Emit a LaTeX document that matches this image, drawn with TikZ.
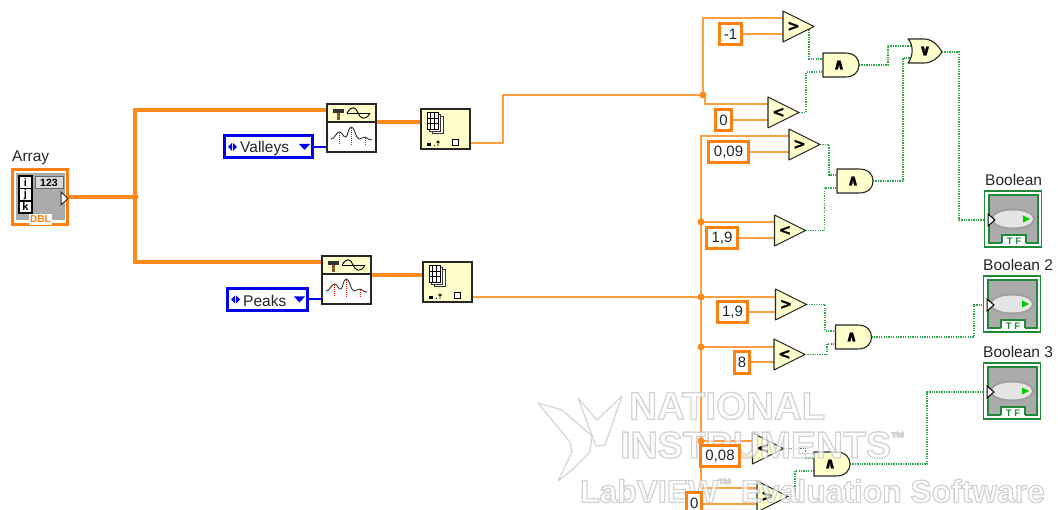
\documentclass[tikz,border=0pt]{standalone}
\usepackage{fontspec}
\setmainfont{Liberation Sans}
\newfontfamily\symf{DejaVu Sans Bold}[FakeBold=1.6]
\usetikzlibrary{backgrounds,calc}
\definecolor{wo}{HTML}{FF8A1A}
\definecolor{wol}{HTML}{FF9E40}
\definecolor{bx}{HTML}{FF7F0F}
\definecolor{yl}{HTML}{FFFFCC}
\definecolor{bl}{HTML}{0000F0}
\definecolor{gw}{HTML}{2DA84A}
\definecolor{gb}{HTML}{1F8A35}
\definecolor{gy}{HTML}{ABABAB}
\tikzset{
 thickwire/.style={wo,line width=3.4pt},
 thinwire/.style={draw=wol,line width=1.8pt},
 bluewire/.style={bl,line width=1.1pt},
 boolwire/.style={gw,line width=1.4pt,dash pattern=on 1.3pt off 1.1pt},
 junc/.style={circle,fill=wo,inner sep=0pt,minimum size=7pt},
 const/.style={draw=bx,fill=white,line width=3pt,inner sep=0pt,font=\fontsize{15}{15}\selectfont,text=black!85},
 gate/.style={draw=black!85,fill=yl,line width=1.1pt,line join=round},
 sym/.style={inner sep=0pt,font=\fontsize{15}{15}\symf,text=black},
 lab/.style={inner sep=0pt,font=\fontsize{15.5}{16}\selectfont,text=black!85},
 enumbox/.style={draw=bl,fill=white,line width=3pt,inner sep=0pt},
 wm/.style={inner sep=0pt,font=\bfseries,opacity=.7},
}
\newcommand\cmpr[4]{%
 \draw[gate] (#2,#3)--(#2+31,#3+15.5)--(#2,#3+31)--cycle;
 \node[sym] (#1) at (#2+10.5,#3+15.5) {#4};
 \coordinate (#1a) at (#2,#3+7);
 \coordinate (#1b) at (#2,#3+23);
 \coordinate (#1o) at (#2+31,#3+15.5);}
\newcommand\andg[3]{%
 \draw[gate] (#2,#3)--(#2+22,#3) .. controls (#2+32,#3) and (#2+36,#3+6) .. (#2+36,#3+12)
   .. controls (#2+36,#3+18) and (#2+32,#3+24) .. (#2+22,#3+24)--(#2,#3+24)--cycle;
 \node[sym] (#1) at (#2+16,#3+12) {∧};
 \coordinate (#1a) at (#2,#3+6);
 \coordinate (#1b) at (#2,#3+19);
 \coordinate (#1o) at (#2+36,#3+12);}
\newcommand\peakvi[3]{%
 \node[draw=black!85,fill=white,line width=1.2pt,minimum width=49pt,minimum height=48pt,inner sep=0pt,outer sep=0pt] (#1) at (#2+24.5,#3+24) {};
 \fill[yl,draw=black!85,line width=1.2pt] (#2,#3)rectangle(#2+49,#3+18);
 \fill[black!80] (#2+6,#3+5) rectangle (#2+17,#3+9);
 \fill[brown!70!black] (#2+10,#3+9) rectangle (#2+13,#3+16);
 \draw[black,line width=.9pt] (#2+20,#3+9) .. controls (#2+25,#3+1) and (#2+29,#3+3) .. (#2+31,#3+9) .. controls (#2+33,#3+15) and (#2+39,#3+17) .. (#2+43,#3+9);
 \draw[black,line width=.6pt] (#2+20,#3+9)--(#2+43,#3+9);
 \draw[red,line width=1pt,dash pattern=on 1pt off 1pt] (#2+12.5,#3+29)--(#2+12.5,#3+41);
 \draw[red,line width=1pt,dash pattern=on 1pt off 1pt] (#2+24.5,#3+24)--(#2+24.5,#3+41);
 \draw[red,line width=1pt,dash pattern=on 1pt off 1pt] (#2+38,#3+34)--(#2+38,#3+41);
 \draw[black!80,line width=.9pt] (#2+4,#3+35) .. controls (#2+8,#3+35) and (#2+9,#3+28) .. (#2+12.5,#3+28) .. controls (#2+16,#3+28) and (#2+16,#3+34) .. (#2+19,#3+33) .. controls (#2+21,#3+32) and (#2+21,#3+23) .. (#2+24.5,#3+23) .. controls (#2+28,#3+23) and (#2+28,#3+34) .. (#2+32,#3+35) .. controls (#2+35,#3+35) and (#2+35,#3+33) .. (#2+38,#3+33) .. controls (#2+40,#3+33) and (#2+41,#3+36) .. (#2+45,#3+36);}
\newcommand\arrfn[3]{%
 \node[draw=black!85,fill=yl,line width=1.2pt,minimum width=49pt,minimum height=40pt,inner sep=0pt,outer sep=0pt] (#1) at (#2+24.5,#3+20) {};
 \draw[fill=white,draw=black!80,line width=.9pt] (#2+11,#3+7) rectangle (#2+22,#3+24);
 \draw[fill=white,draw=black!80,line width=.9pt] (#2+8,#3+5.5) rectangle (#2+19,#3+22.5);
 \draw[fill=white,draw=black,line width=1pt] (#2+6,#3+4) rectangle (#2+17,#3+21);
 \draw[black,line width=1pt] (#2+6,#3+9.5)--(#2+17,#3+9.5) (#2+6,#3+15)--(#2+17,#3+15) (#2+9.7,#3+4)--(#2+9.7,#3+21) (#2+13.4,#3+4)--(#2+13.4,#3+21);
 \fill[black] (#2+6,#3+34) rectangle (#2+10,#3+37);
 \fill[black] (#2+13,#3+36) rectangle (#2+14.2,#3+37);
 \draw[black,line width=.8pt] (#2+17,#3+37)--(#2+17,#3+32) (#2+15.5,#3+33.5)--(#2+17,#3+32)--(#2+18.5,#3+33.5);
 \draw[black,line width=1pt,fill=white] (#2+31.5,#3+31) rectangle (#2+37.5,#3+37);}
\newcommand\boolind[3]{%
 \node[draw=gb,fill=white,line width=1.6pt,minimum width=57pt,minimum height=56.5pt,inner sep=0pt,outer sep=0pt] (#1) at (#2+29,#3+29) {};
 \draw[gb,fill=gy,line width=1.4pt] (#2+5,#3+5) rectangle (#2+54,#3+53);
 \fill[white] (#2+18,#3+45) rectangle (#2+42,#3+54);
 \draw[gb,line width=1.2pt] (#2+18,#3+53.5) -- (#2+18,#3+45) -- (#2+42,#3+45) -- (#2+42,#3+53.5);
 \node[inner sep=0pt,text=gb,font=\bfseries\fontsize{9.5}{9.5}\selectfont] at (#2+30,#3+51) {T F};
 \fill[black!38] (#2+29,#3+29) ellipse [x radius=22pt,y radius=10.5pt];
 \fill[black!10] (#2+29,#3+29) ellipse [x radius=20pt,y radius=8.5pt];
 \fill[green!80!black] (#2+39,#3+25.5) -- (#2+46,#3+29) -- (#2+39,#3+32.5)--cycle;
 \draw[fill=white,draw=black,line width=1pt] (#2+4,#3+24) -- (#2+11,#3+30) -- (#2+4,#3+36) -- cycle;
 \coordinate (#1i) at (#2+4,#3+30);}
\newcommand\enumctl[5]{% name x y w text
 \node[enumbox,minimum width=#4pt-3pt,minimum height=22pt] (#1) at (#2+#4/2,#3+12) {};
 \fill[bl] (#2+5,#3+12) -- (#2+9,#3+8) -- (#2+9,#3+16) -- cycle;
 \fill[bl] (#2+14,#3+12) -- (#2+10,#3+8) -- (#2+10,#3+16) -- cycle;
 \fill[bl] (#2+#4-15,#3+9) -- (#2+#4-4,#3+9) -- (#2+#4-9.5,#3+15) -- cycle;
 \node[lab,anchor=west] at (#2+17,#3+13.5) {#5};}
\begin{document}
\begin{tikzpicture}[x=1pt,y=-1pt]
\clip (0,0) rectangle (1058,510);
% Array terminal
\node[draw=bx,fill=white,line width=3pt,minimum width=55pt,minimum height=55pt,inner sep=0pt,outer sep=0pt] (arr) at (40,197) {};
\fill[gy] (15.5,173) rectangle (64.5,220);
\draw[black,fill=white,line width=1.1pt] (19,176) rectangle (32,213);
\draw[black,line width=1.1pt] (19,188.5)--(32,188.5) (19,201)--(32,201);
\node[inner sep=0pt,font=\bfseries\fontsize{11}{11}\selectfont] at (25.5,182.5) {i};
\node[inner sep=0pt,font=\bfseries\fontsize{11}{11}\selectfont] at (25.5,195) {j};
\node[inner sep=0pt,font=\bfseries\fontsize{11}{11}\selectfont] at (25.5,207) {k};
\draw[fill=black!15,draw=black!60,line width=1pt] (35,177) rectangle (63,189);
\node[inner sep=0pt,font=\bfseries\fontsize{10.5}{10.5}\selectfont] at (49,183) {123};
\node[fill=white,inner sep=0pt,minimum width=23pt,minimum height=11pt,text=bx,font=\bfseries\fontsize{10}{10}\selectfont] at (40.5,219.5) {DBL};
\draw[fill=white,draw=black!80,line width=1pt] (61,192)--(68,198.5)--(61,205)--cycle;
\coordinate (arrp) at (68,197);
\node[lab,anchor=west] (arrl) at (12,158) {Array};
% VIs and controls
\peakvi{vi1}{327}{104}
\peakvi{vi2}{322}{256}
\enumctl{ev}{223}{135}{91}{Valleys}
\enumctl{ep}{226}{287.5}{83}{Peaks}
\arrfn{af1}{421}{109}
\arrfn{af2}{423}{262}
% comparators
\cmpr{g1}{783}{11}{>}
\cmpr{g2}{768}{97}{<}
\cmpr{g3}{789}{129}{>}
\cmpr{g4}{774.5}{215}{<}
\cmpr{g5}{775.5}{289}{>}
\cmpr{g6}{774}{339}{<}
\cmpr{g7}{752.5}{433}{<}
\cmpr{g8}{757}{481}{>}
\andg{a1}{823}{53}
\andg{a2}{837}{169}
\andg{a3}{835.5}{325}
\andg{a4}{814}{452}
% OR
\draw[gate] (908,39) -- (924,39) .. controls (932,39) and (938,45) .. (942,52) .. controls (938,58) and (932,63) .. (924,63) -- (908,63) .. controls (913,57) and (914,45) .. (908,39) -- cycle;
\node[sym] (or1) at (925,51) {∨};
\coordinate (ora) at (912,46);
\coordinate (orb) at (912,58);
\coordinate (oro) at (942,52);
% constants
\node[const,minimum width=22pt,minimum height=21pt] (c1) at (730.5,34) {-1};
\node[const,minimum width=16pt,minimum height=21pt] (c2) at (723.5,120) {0};
\node[const,minimum width=40pt,minimum height=21pt] (c3) at (728.5,152) {0,09};
\node[const,minimum width=31pt,minimum height=21pt] (c4) at (722,238) {1,9};
\node[const,minimum width=30pt,minimum height=21pt] (c5) at (732.5,312) {1,9};
\node[const,minimum width=15pt,minimum height=22pt] (c6) at (742,362.5) {8};
% booleans
\boolind{b1}{984}{190}
\boolind{b2}{983}{275}
\boolind{b3}{983}{362}
\node[lab,anchor=west] (b1l) at (985,179.5) {Boolean};
\node[lab,anchor=west] (b2l) at (983,264.5) {Boolean 2};
\node[lab,anchor=west] (b3l) at (983,352) {Boolean 3};
% junctions
\node[junc] (j0) at (135,197) {};
\node[junc] (j1) at (703,95) {};
\node[junc] (j2) at (701,222) {};
\node[junc] (j3) at (701,297) {};
\node[junc] (j4) at (701,347) {};
\node[junc] (j5) at (701,441) {};
\coordinate (busa) at (701,136);
\coordinate (busb) at (701,488);
% watermark
\begin{scope}[opacity=.75]
\draw[draw=black!22,fill=white,line width=1.2pt,line join=round] (538,403) -- (562,410) -- (592,436) -- (590,452) -- (574,468) -- (558,481) -- (572,452) -- (570,442) -- cycle;
\draw[draw=black!22,fill=white,line width=1.2pt,line join=round] (578,398) -- (597,420) -- (622,396) -- (605,445) -- (596,446) -- cycle;
\end{scope}
\newcommand\wmon{\special{pdf:code q 2 Tr 1.3 w 0.76 0.76 0.76 RG 1 1 1 rg}}
\newcommand\wmoff{\special{pdf:code Q}}
\newcommand\tmk{\raisebox{.42em}{\fontsize{14}{14}\selectfont ™}}
\node[wm,anchor=west] (wm1) at (629,406) {\fontsize{38.5}{39}\selectfont\wmon NATIONAL\wmoff};
\node[wm,anchor=west] (wm2) at (620,445) {\fontsize{37.5}{38}\selectfont\wmon INSTRUMENTS\tmk\wmoff};
\node[wm,anchor=west] (wm3) at (580,491) {\fontsize{31.8}{32}\selectfont\wmon LabVIEW\tmk{} Evaluation Software\wmoff};
\node[const,minimum width=39pt,minimum height=21pt] (c7) at (720,456) {0,08};
\node[const,minimum width=15.5pt,minimum height=21pt] (c8) at (694.2,503) {0};
\begin{pgfonlayer}{background}
 \draw[thickwire] (arrp)--(j0.center);
 \draw[thickwire] (vi1.west|-0,110) -| (j0.center) |- (vi2.west|-0,262);
 \draw[thickwire] (vi1.east|-0,122)--(af1.west|-0,122);
 \draw[thickwire] (vi2.east|-0,275)--(af2.west|-0,275);
 \draw[bluewire] (ev.east|-0,147)--(vi1.west|-0,147);
 \draw[bluewire] (ep.east|-0,299)--(vi2.west|-0,299);
 \draw[thinwire] (af1.east|-0,143) -- (503,143) |- (j1.center);
 \draw[thinwire] (af2.east|-j3) -- (j3.center);
 \draw[thinwire] (g1a) -| (j1.center);
 \draw[thinwire] (j1.center) -- (705,95) |- (g2a);
 \draw[thinwire] (g3a) -- (busa) -- (busb) -- (g8a);
 \draw[thinwire] (j2.center)--(j2.center-|g4a);
 \draw[thinwire] (j3.center)--(j3.center-|g5a);
 \draw[thinwire] (j4.center)--(j4.center-|g6a);
 \draw[thinwire] (j5.center)--(j5.center-|g7a);
 \draw[thinwire] (c1.east|-g1b)--(g1b);
 \draw[thinwire] (c2.east|-g2b)--(g2b);
 \draw[thinwire] (c3.east|-g3b)--(g3b);
 \draw[thinwire] (c4.east|-g4b)--(g4b);
 \draw[thinwire] (c5.east|-g5b)--(g5b);
 \draw[thinwire] (c6.east|-g6b)--(g6b);
 \draw[thinwire] (c7.east|-g7b)--(g7b);
 \draw[thinwire] (c8.east|-g8b)--(g8b);
 \draw[boolwire] (g1o) ++(-5,3) -- ++(0,29.5) -- (a1a);
 \draw[boolwire] (g2o) -- ++(7,0) |- (a1b);
 \draw[boolwire] (g3o) -- ++(9,0) |- (a2a);
 \draw[boolwire] (g4o) -- ++(19,0) |- (a2b);
 \draw[boolwire] (g5o) -- ++(18.5,0) |- (a3a);
 \draw[boolwire] (g6o) -- ++(22,0) |- (a3b);
 \draw[boolwire] (g7o) -- ++(22,0) |- (a4a);
 \draw[boolwire] (g8o) -- ++(7,0) |- (a4b);
 \draw[boolwire] (a1o) -- ++(29,0) |- (ora);
 \draw[boolwire] (a2o) -- ++(30,0) |- (orb);
 \draw[boolwire] (oro) -- ++(17,0) |- (b1i);
 \draw[boolwire] (a3o) -- ++(102.5,0) |- (b2i);
 \draw[boolwire] (a4o) -- ++(77,0) |- (b3i);
\end{pgfonlayer}
\end{tikzpicture}
\end{document}
